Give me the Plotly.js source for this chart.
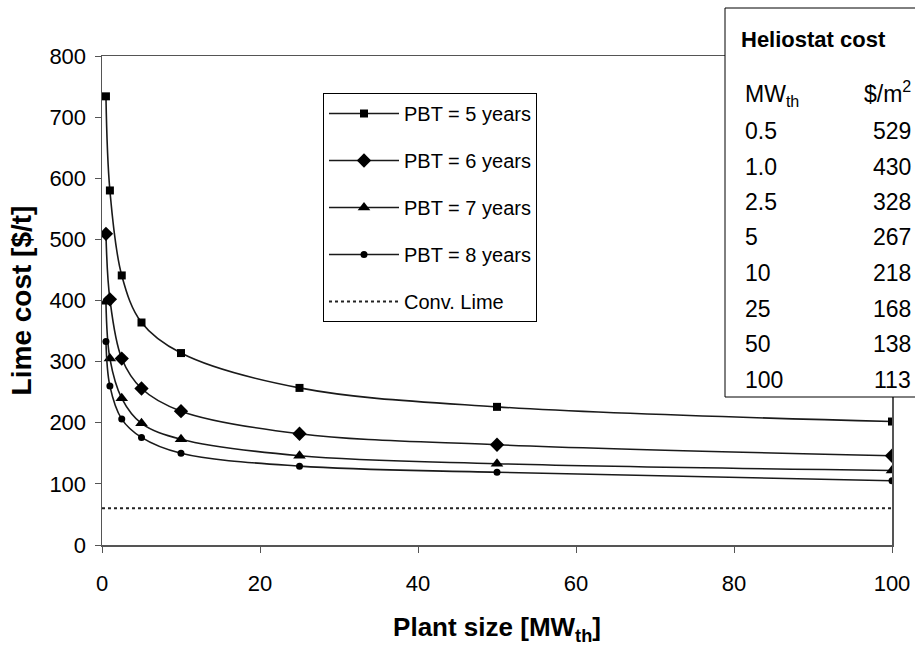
<!DOCTYPE html>
<html>
<head>
<meta charset="utf-8">
<script src="https://cdn.plot.ly/plotly-3.0.1.min.js"></script>
<style>html,body{margin:0;padding:0;background:#fff;}#chart{width:915px;height:653px;}</style>
</head>
<body>
<div id="chart"></div>
<script>
const plantSize = [0.5, 1, 2.5, 5, 10, 25, 50, 100];
const pbt5 = [734, 580, 441, 364, 314, 257, 226, 202];
const pbt6 = [509, 402, 305, 256, 219, 182, 164, 146];
const pbt7 = [398, 305, 240, 199, 173, 146, 133, 122];
const pbt8 = [333, 260, 206, 176, 150, 129, 119, 105];
const convX = [0, 100];
const convLime = [60, 60];
const seriesNames = ['PBT = 5 years', 'PBT = 6 years', 'PBT = 7 years', 'PBT = 8 years', 'Conv. Lime'];
const tableTitle = 'Heliostat cost';
const tableHeader = ['MW<sub>th</sub>', '$/m<sup>2</sup>'];
const tableMW = ['0.5', '1.0', '2.5', '5', '10', '25', '50', '100'];
const tableCost = ['529', '430', '328', '267', '218', '168', '138', '113'];

const FONT = 'Liberation Sans, Arial, sans-serif';
const lineStyle = {color: '#1a1a1a', width: 1.6, shape: 'spline', smoothing: 1};

const symbols = ['square', 'diamond', 'triangle-up', 'circle'];
const sizes = [8, 11, 11, 7];
const ys = [pbt5, pbt6, pbt7, pbt8];
const traces = ys.map((y, i) => ({
  x: plantSize, y: y, type: 'scatter', mode: 'lines+markers', name: seriesNames[i],
  legendgroup: 'g' + i,
  line: lineStyle,
  marker: {symbol: symbols[i], size: sizes[i], color: '#000'}
}));
traces.push({
  x: convX, y: convLime, type: 'scatter', mode: 'lines', name: seriesNames[4],
  legendgroup: 'g4',
  line: {color: '#222', width: 2, dash: 'dot'}
});

const L = 102, R = 892, T = 56, B = 545;
const W = R - L, H = B - T;
const px = v => (v - L) / W;
const py = v => (B - v) / H;

const tFont = {family: FONT, size: 23, color: '#000'};
const annotations = [];
annotations.push({xref: 'paper', yref: 'paper', x: px(739), y: py(40), xanchor: 'left', yanchor: 'middle',
  text: '<b>' + tableTitle + '</b>', showarrow: false, font: {family: FONT, size: 22, color: '#000'}});
annotations.push({xref: 'paper', yref: 'paper', x: px(743), y: py(95), xanchor: 'left', yanchor: 'middle',
  text: tableHeader[0], showarrow: false, font: tFont});
annotations.push({xref: 'paper', yref: 'paper', x: px(913), y: py(92), xanchor: 'right', yanchor: 'middle',
  text: tableHeader[1], showarrow: false, font: tFont});
tableMW.forEach((m, i) => {
  const yy = 131 + i * 35.5;
  annotations.push({xref: 'paper', yref: 'paper', x: px(743), y: py(yy), xanchor: 'left', yanchor: 'middle',
    text: m, showarrow: false, font: tFont});
  annotations.push({xref: 'paper', yref: 'paper', x: px(913), y: py(yy), xanchor: 'right', yanchor: 'middle',
    text: tableCost[i], showarrow: false, font: tFont});
});

const layout = {
  width: 915, height: 653,
  margin: {l: L, r: 915 - R, t: T, b: 653 - B},
  paper_bgcolor: '#fff', plot_bgcolor: '#fff',
  font: {family: FONT, color: '#000'},
  showlegend: true,
  legend: {x: px(323), y: py(93), xanchor: 'left', yanchor: 'top',
    bgcolor: '#fff', bordercolor: '#000', borderwidth: 1, itemwidth: 70,
    font: {family: FONT, size: 20, color: '#000'}, tracegroupgap: 18},
  xaxis: {range: [0, 100], dtick: 20, tick0: 0, showgrid: false, zeroline: false,
    showline: true, linecolor: '#555', linewidth: 1.5, mirror: true,
    ticks: 'outside', ticklen: 6, tickcolor: '#555', ticklabelstandoff: 12,
    tickfont: {family: FONT, size: 22, color: '#000'},
    title: {text: '<b>Plant size [MW<sub>th</sub>]</b>', font: {family: FONT, size: 26, color: '#000'}, standoff: 23}},
  yaxis: {range: [0, 800], dtick: 100, tick0: 0, showgrid: false, zeroline: false,
    showline: true, linecolor: '#555', linewidth: 1.5, mirror: true,
    ticks: 'outside', ticklen: 6, tickcolor: '#555', ticklabelstandoff: 4,
    tickfont: {family: FONT, size: 22, color: '#000'},
    title: {text: '<b>Lime cost [$/t]</b>', font: {family: FONT, size: 28, color: '#000'}, standoff: 9}},
  shapes: [{type: 'rect', xref: 'paper', yref: 'paper', layer: 'above',
    x0: px(725), x1: px(925), y0: py(397), y1: py(8),
    line: {color: '#000', width: 1}, fillcolor: '#fff'}],
  annotations: annotations
};

Plotly.newPlot('chart', traces, layout, {displayModeBar: false, staticPlot: true});
</script>
</body>
</html>
